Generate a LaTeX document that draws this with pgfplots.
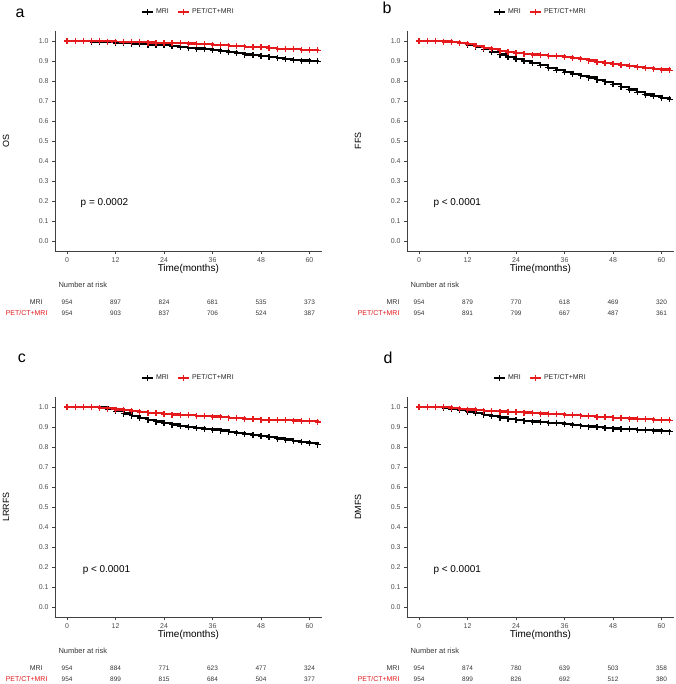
\documentclass[border=0pt]{standalone}
\usepackage{pgfplots}
\pgfplotsset{compat=1.18}
\usepackage{pgfplotstable}
\usepackage{fontspec}
\setmainfont{Liberation Sans}
\definecolor{kmred}{RGB}{228,26,28}
\definecolor{axgray}{RGB}{77,77,77}

% survival estimates, every 2 months
\pgfplotstableread{
t  mri   pet
0  1.000 1.000
2  1.000 1.000
4  0.999 1.000
6  0.997 0.999
8  0.995 0.998
10 0.993 0.997
12 0.990 0.996
14 0.988 0.995
16 0.986 0.994
18 0.984 0.993
20 0.982 0.992
22 0.980 0.991
24 0.978 0.990
26 0.973 0.989
28 0.969 0.988
30 0.966 0.987
32 0.962 0.985
34 0.958 0.983
36 0.953 0.981
38 0.948 0.979
40 0.943 0.976
42 0.938 0.973
44 0.932 0.971
46 0.928 0.970
48 0.925 0.968
50 0.921 0.964
52 0.916 0.961
54 0.910 0.959
56 0.905 0.958
58 0.902 0.956
60 0.900 0.955
62 0.899 0.954
}\tabA
\pgfplotstableread{
t  mri   pet
0  1.000 1.000
2  1.000 1.000
4  0.998 0.999
6  0.996 0.997
8  0.993 0.994
10 0.988 0.990
12 0.982 0.983
14 0.972 0.975
16 0.958 0.966
18 0.945 0.958
20 0.932 0.951
22 0.920 0.945
24 0.910 0.940
26 0.900 0.936
28 0.890 0.932
30 0.879 0.929
32 0.866 0.926
34 0.853 0.923
36 0.843 0.920
38 0.835 0.914
40 0.826 0.908
42 0.817 0.902
44 0.806 0.895
46 0.796 0.889
48 0.784 0.883
50 0.771 0.878
52 0.757 0.873
54 0.744 0.869
56 0.732 0.865
58 0.723 0.861
60 0.716 0.857
62 0.709 0.853
}\tabB
\pgfplotstableread{
t  mri   pet
0  1.000 1.000
2  1.000 1.000
4  1.000 1.000
6  0.999 0.999
8  0.997 0.996
10 0.990 0.992
12 0.978 0.987
14 0.967 0.983
16 0.956 0.979
18 0.945 0.975
20 0.936 0.971
22 0.927 0.968
24 0.920 0.965
26 0.912 0.962
28 0.904 0.960
30 0.898 0.958
32 0.893 0.956
34 0.890 0.954
36 0.887 0.952
38 0.882 0.949
40 0.876 0.946
42 0.870 0.943
44 0.864 0.940
46 0.858 0.938
48 0.853 0.936
50 0.848 0.935
52 0.842 0.934
54 0.837 0.933
56 0.831 0.932
58 0.825 0.930
60 0.820 0.928
62 0.812 0.925
}\tabC
\pgfplotstableread{
t  mri   pet
0  1.000 1.000
2  1.000 1.000
4  0.999 1.000
6  0.996 0.998
8  0.990 0.995
10 0.984 0.991
12 0.977 0.987
14 0.969 0.984
16 0.961 0.981
18 0.953 0.979
20 0.947 0.977
22 0.941 0.976
24 0.936 0.974
26 0.931 0.972
28 0.927 0.970
30 0.924 0.967
32 0.921 0.965
34 0.918 0.963
36 0.914 0.961
38 0.910 0.958
40 0.906 0.956
42 0.902 0.953
44 0.898 0.950
46 0.895 0.948
48 0.892 0.946
50 0.889 0.944
52 0.888 0.942
54 0.886 0.940
56 0.884 0.938
58 0.882 0.936
60 0.880 0.935
62 0.877 0.933
}\tabD

\pgfplotsset{
  km/.style={
    scale only axis, width=266.6bp, height=220bp,
    xmin=-3, xmax=63, ymin=-0.05, ymax=1.05,
    clip=false,
    axis lines=left,
    axis line style={-, black!75, line width=0.7bp},
    xtick={0,12,24,36,48,60},
    ytick={0,0.1,0.2,0.3,0.4,0.5,0.6,0.7,0.8,0.9,1.0},
    yticklabel style={/pgf/number format/.cd, fixed, fixed zerofill, precision=1},
    /pgf/number format/assume math mode=true,
    tick align=outside, major tick length=3bp,
    tick style={black!75, line width=0.6bp},
    ticklabel style={font=\fontsize{7}{8}\selectfont, text=axgray},
    xlabel={Time(months)},
    xlabel style={font=\fontsize{10}{11}\selectfont, at={(axis description cs:0.5,0)}, anchor=center, yshift=-18bp},
    ylabel style={font=\fontsize{9}{10}\selectfont, at={(axis description cs:-0.184,0.5)}, anchor=center},
    legend style={draw=none, fill=none, at={(axis description cs:0.5,1.086)}, anchor=center,
      font=\fontsize{7}{8}\selectfont, text=black!85,
      /tikz/every even column/.append style={column sep=6bp}},
    legend columns=2,
    legend image code/.code={\draw[mark repeat=2,mark phase=2,#1] plot coordinates {(0bp,0bp) (5.5bp,0bp) (11bp,0bp)};},
  },
  mriS/.style={black, const plot, line width=2.2bp, mark=+, mark size=3bp, mark options={solid, line width=1.3bp}},
  petS/.style={kmred, const plot, line width=2.2bp, mark=+, mark size=3bp, mark options={solid, line width=1.3bp}},
}

% risk table row: y position, style, six counts
\newcommand\riskrow[8]{%
  \node[#2, font=\fontsize{6.5}{7}\selectfont] at (axis cs:0,#1) {#3};
  \node[#2, font=\fontsize{6.5}{7}\selectfont] at (axis cs:12,#1) {#4};
  \node[#2, font=\fontsize{6.5}{7}\selectfont] at (axis cs:24,#1) {#5};
  \node[#2, font=\fontsize{6.5}{7}\selectfont] at (axis cs:36,#1) {#6};
  \node[#2, font=\fontsize{6.5}{7}\selectfont] at (axis cs:48,#1) {#7};
  \node[#2, font=\fontsize{6.5}{7}\selectfont] at (axis cs:60,#1) {#8};
}
\newcommand\risklabels[2]{%
  \node[anchor=west, font=\fontsize{7.5}{8}\selectfont, text=black!80] at (axis cs:-3,-0.22) {Number at risk};
  \node[anchor=east, font=\fontsize{7}{8}\selectfont, text=black!80] at (axis cs:#1,-0.305) {MRI};
  \node[anchor=east, font=\fontsize{7}{8}\selectfont, text=kmred] at (axis cs:#2,-0.3625) {PET/CT+MRI};
}

\begin{document}
\begin{tikzpicture}
\useasboundingbox (0,0) rectangle (676bp,684bp);

% a: OS
\begin{axis}[km, at={(55bp,433bp)}, anchor=south west, ylabel={OS}]
\addplot[mriS] table[x=t, y=mri] {\tabA};
\addlegendentry{MRI}
\addplot[petS] table[x=t, y=pet] {\tabA};
\addlegendentry{PET/CT+MRI}
\node[anchor=west, font=\fontsize{10}{11}\selectfont] at (axis cs:2.5,0.19) {p = 0.0002};
\node[font=\fontsize{16}{17}\selectfont] at (axis description cs:-0.131,1.082) {a};
\risklabels{-5.2}{-4}
\riskrow{-0.305}{text=black!80}{954}{897}{824}{681}{535}{373}
\riskrow{-0.3625}{text=black!80}{954}{903}{837}{706}{524}{387}
\end{axis}

% b: FFS
\begin{axis}[km, at={(407bp,433bp)}, anchor=south west, ylabel={FFS}]
\addplot[mriS] table[x=t, y=mri] {\tabB};
\addlegendentry{MRI}
\addplot[petS] table[x=t, y=pet] {\tabB};
\addlegendentry{PET/CT+MRI}
\node[anchor=west, font=\fontsize{10}{11}\selectfont] at (axis cs:2.7,0.19) {p < 0.0001};
\node[font=\fontsize{16}{17}\selectfont] at (axis description cs:-0.075,1.105) {b};
\risklabels{-4}{-4}
\riskrow{-0.305}{text=black!80}{954}{879}{770}{618}{469}{320}
\riskrow{-0.3625}{text=black!80}{954}{891}{799}{667}{487}{361}
\end{axis}

% c: LRRFS
\begin{axis}[km, at={(55bp,67bp)}, anchor=south west, ylabel={LRRFS}]
\addplot[mriS] table[x=t, y=mri] {\tabC};
\addlegendentry{MRI}
\addplot[petS] table[x=t, y=pet] {\tabC};
\addlegendentry{PET/CT+MRI}
\node[anchor=west, font=\fontsize{10}{11}\selectfont] at (axis cs:3,0.185) {p < 0.0001};
\node[font=\fontsize{16}{17}\selectfont] at (axis description cs:-0.124,1.177) {c};
\risklabels{-5.2}{-4}
\riskrow{-0.305}{text=black!80}{954}{884}{771}{623}{477}{324}
\riskrow{-0.3625}{text=black!80}{954}{899}{815}{684}{504}{377}
\end{axis}

% d: DMFS
\begin{axis}[km, at={(407bp,67bp)}, anchor=south west, ylabel={DMFS}]
\addplot[mriS] table[x=t, y=mri] {\tabD};
\addlegendentry{MRI}
\addplot[petS] table[x=t, y=pet] {\tabD};
\addlegendentry{PET/CT+MRI}
\node[anchor=west, font=\fontsize{10}{11}\selectfont] at (axis cs:2.7,0.185) {p < 0.0001};
\node[font=\fontsize{16}{17}\selectfont] at (axis description cs:-0.071,1.177) {d};
\risklabels{-4}{-4}
\riskrow{-0.305}{text=black!80}{954}{874}{780}{639}{503}{358}
\riskrow{-0.3625}{text=black!80}{954}{899}{826}{692}{512}{380}
\end{axis}
\end{tikzpicture}
\end{document}
